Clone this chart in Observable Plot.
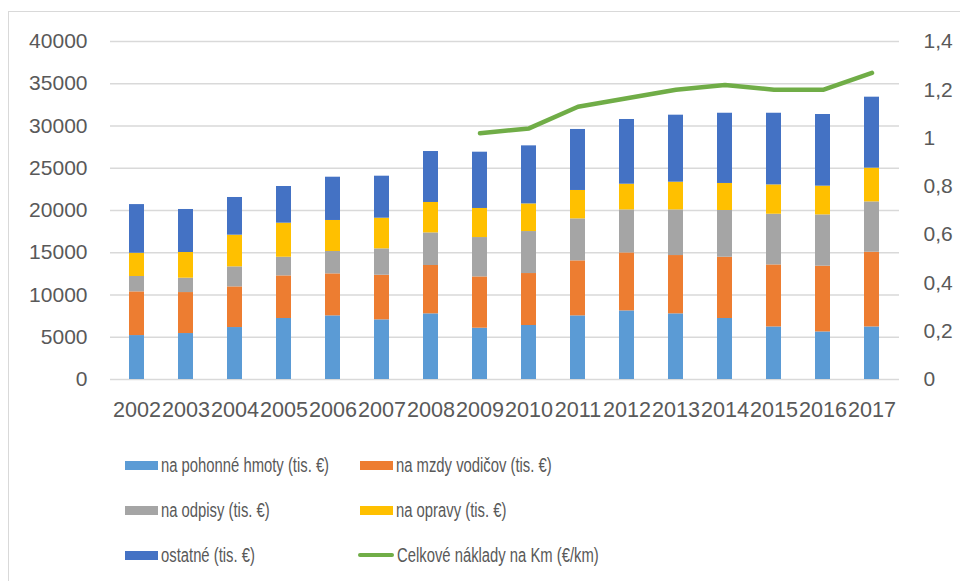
<!DOCTYPE html>
<html><head><meta charset="utf-8">
<script src="https://cdn.jsdelivr.net/npm/d3@7"></script>
<script src="https://cdn.jsdelivr.net/npm/@observablehq/plot@0.6"></script>
<style>
html,body{margin:0;padding:0;background:#fff;}
body{width:960px;height:581px;overflow:hidden;position:relative;font-family:"Liberation Sans",Arial,sans-serif;}
#frame{position:absolute;left:8px;top:11px;width:1000px;height:700px;border-left:1.5px solid #d9d9d9;border-top:1.5px solid #d9d9d9;}
#chart{position:absolute;left:0;top:0;}
#legend{position:absolute;left:0;top:0;width:960px;height:581px;}
.item{position:absolute;height:30px;display:flex;align-items:center;font-size:19.5px;color:#595959;white-space:nowrap;}
.sw{width:33px;height:9px;margin-right:3px;flex:none;}
.ln{width:36px;height:4.5px;border-radius:3px;margin-right:3px;flex:none;}
.lab{display:inline-block;transform:scaleX(0.76);transform-origin:left center;}
</style></head><body>
<div id="frame"></div>
<div id="chart"></div>
<div id="legend"></div>
<script>
const years = ["2002","2003","2004","2005","2006","2007","2008","2009","2010","2011","2012","2013","2014","2015","2016","2017"];
const fuel         = [5200, 5440, 6150, 7220, 7530, 7060, 7770, 6070, 6390, 7530, 8120, 7770, 7220, 6220, 5630, 6220];
const wages        = [5170, 4850, 4810, 5040, 4970, 5280, 5720, 6070, 6150, 6510, 6860, 6900, 7250, 7340, 7780, 8840];
const depreciation = [1820, 1700, 2370, 2210, 2650, 3120, 3860, 4660, 4970, 4970, 5090, 5400, 5530, 6000, 6070, 5960];
const repairs      = [2750, 3040, 3750, 4030, 3670, 3630, 3600, 3440, 3270, 3360, 3040, 3280, 3200, 3470, 3400, 3990];
const other        = [5760, 5090, 4460, 4340, 5120, 4970, 6030, 6660, 6870, 7220, 7660, 7930, 8310, 8480, 8480, 8400];
const costPerKm    = [null, null, null, null, null, null, null, 1.02, 1.04, 1.13, 1.165, 1.2, 1.22, 1.2, 1.2, 1.27];

const seriesNames = ["na pohonné hmoty (tis. €)", "na mzdy vodičov (tis. €)", "na odpisy (tis. €)", "na opravy (tis. €)", "ostatné (tis. €)"];
const seriesColors = ["#5b9bd5", "#ed7d31", "#a5a5a5", "#ffc000", "#4472c4"];
const lineName = "Celkové náklady na Km (€/km)";
const lineColor = "#70ad47";

const leftTicks = [0, 5000, 10000, 15000, 20000, 25000, 30000, 35000, 40000];
const rightTicks = [0, 0.2, 0.4, 0.6, 0.8, 1, 1.2, 1.4];
const rightTickLabels = ["0", "0,2", "0,4", "0,6", "0,8", "1", "1,2", "1,4"];
const leftMax = 40000, rightMax = 1.4;

const seriesValues = [fuel, wages, depreciation, repairs, other];
const rows = years.flatMap((y, i) => seriesValues.map((vals, k) => ({year: y, series: seriesNames[k], value: vals[i]})));
const k = leftMax / rightMax;
const lineRows = years.map((y, i) => ({year: y, v: costPerKm[i]})).filter(d => d.v != null);
const rightMap = new Map(rightTicks.map((t, i) => [t * k, rightTickLabels[i]]));

const font = '"Liberation Sans", Arial, sans-serif';
const chart = Plot.plot({
  width: 960, height: 430,
  marginLeft: 110, marginRight: 61, marginTop: 41, marginBottom: 51,
  style: {fontFamily: font, fontSize: "21px", color: "#595959", background: "transparent", overflow: "visible"},
  x: {type: "band", domain: years, paddingInner: 0.69, paddingOuter: 0.345, label: null},
  y: {domain: [0, leftMax], label: null},
  color: {domain: seriesNames, range: seriesColors},
  marks: [
    Plot.gridY(leftTicks, {stroke: "#d9d9d9", strokeOpacity: 1, strokeWidth: 1.3}),
    Plot.barY(rows, {x: "year", y: "value", fill: "series", order: seriesNames}),
    Plot.line(lineRows, {x: "year", y: d => d.v * k, stroke: lineColor, strokeWidth: 4.5, strokeLinejoin: "round", strokeLinecap: "round"}),
    Plot.axisY(leftTicks, {anchor: "left", tickSize: 0, tickPadding: 23, label: null, tickFormat: d => String(d), fill: "#595959"}),
    Plot.axisY(rightTicks.map(t => t * k), {anchor: "right", tickSize: 0, tickPadding: 24, label: null, tickFormat: d => rightMap.get(d), fill: "#595959"}),
    Plot.axisX({tickSize: 0, tickPadding: 22, label: null, fill: "#595959", fontSize: 21.6})
  ]
});
document.getElementById("chart").appendChild(chart);

const legendItems = [
  {name: seriesNames[0], color: seriesColors[0], type: "rect", left: 125, cy: 465},
  {name: seriesNames[1], color: seriesColors[1], type: "rect", left: 360, cy: 465},
  {name: seriesNames[2], color: seriesColors[2], type: "rect", left: 125, cy: 510},
  {name: seriesNames[3], color: seriesColors[3], type: "rect", left: 360, cy: 510},
  {name: seriesNames[4], color: seriesColors[4], type: "rect", left: 125, cy: 555},
  {name: lineName, color: lineColor, type: "line", left: 358, cy: 555}
];
const legend = document.getElementById("legend");
for (const it of legendItems) {
  const d = document.createElement("div");
  d.className = "item";
  d.style.left = it.left + "px";
  d.style.top = (it.cy - 15) + "px";
  const s = document.createElement("span");
  s.className = it.type === "line" ? "ln" : "sw";
  s.style.background = it.color;
  const t = document.createElement("span");
  t.className = "lab";
  t.textContent = it.name;
  d.appendChild(s); d.appendChild(t);
  legend.appendChild(d);
}
</script>
</body></html>
